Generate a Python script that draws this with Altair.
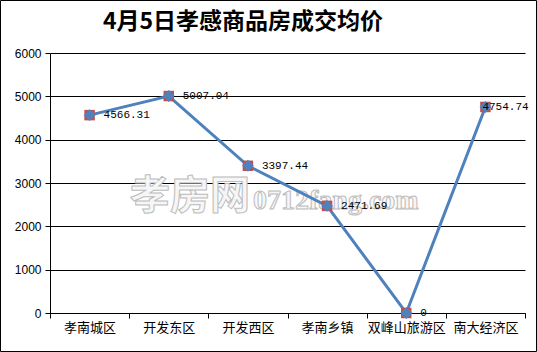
import altair as alt
import pandas as pd

title_text = "4月5日孝感商品房成交均价"
districts = ["孝南城区", "开发东区", "开发西区", "孝南乡镇", "双峰山旅游区", "南大经济区"]
prices = [4566.31, 5007.04, 3397.44, 2471.69, 0, 4754.74]
price_labels = ["4566.31", "5007.04", "3397.44", "2471.69", "0", "4754.74"]
y_ticks = [0, 1000, 2000, 3000, 4000, 5000, 6000]
watermark_cn = "孝房网"
watermark_en = "0712fang.com"

df = pd.DataFrame({"district": districts, "price": prices, "label": price_labels})
one = pd.DataFrame({"k": [0]})

BLUE = "#4F81BD"
RED = "#C0504D"

x_enc = alt.X(
    "district:N",
    sort=districts,
    scale=alt.Scale(paddingInner=0, paddingOuter=0),
    axis=alt.Axis(
        title=None,
        labelAngle=0,
        tickBand="extent",
        tickSize=5,
        tickColor="black",
        domainColor="black",
        labelFont="Noto Sans CJK SC",
        labelFontSize=13,
        labelColor="black",
        labelPadding=3,
        grid=False,
    ),
)
y_enc = alt.Y(
    "price:Q",
    scale=alt.Scale(domain=[0, 6000], nice=False),
    axis=alt.Axis(
        title=None,
        values=y_ticks,
        format="d",
        grid=True,
        gridColor="black",
        gridWidth=1,
        tickSize=5,
        tickColor="black",
        domainColor="black",
        labelFont="Liberation Sans",
        labelFontSize=12,
        labelColor="black",
        labelPadding=4,
    ),
)

base = alt.Chart(df)

border = alt.Chart(one).mark_rect(fill=None, stroke="black", strokeWidth=1).encode(
    x=alt.value(-49.5), x2=alt.value(486.5), y=alt.value(-52.5), y2=alt.value(298.5)
)

wm_cn = alt.Chart(one).mark_text(
    text=watermark_cn, font="Noto Sans CJK SC", fontSize=40, fontWeight="bold",
    fill="#f6f6f6", stroke="#bcbcbc", strokeWidth=1, align="left", baseline="middle"
).encode(x=alt.value(80), y=alt.value(144))

wm_en = alt.Chart(one).mark_text(
    text=watermark_en, font="Liberation Serif", fontSize=28, fontWeight="bold",
    fill="#f6f6f6", stroke="#bcbcbc", strokeWidth=1, align="left", baseline="middle"
).encode(x=alt.value(203), y=alt.value(148))

line = base.mark_line(color=BLUE, strokeWidth=3).encode(x=x_enc, y=y_enc)
squares = base.mark_square(color=RED, size=110, opacity=1).encode(x=x_enc, y=y_enc)
diamonds = base.mark_point(shape="diamond", filled=True, color=BLUE, size=140, opacity=1).encode(
    x=x_enc, y=y_enc
)

labels = base.transform_filter(alt.datum.district != districts[-1]).mark_text(
    font="Liberation Mono", fontSize=11, align="left", baseline="middle", dx=14, color="black"
).encode(x=x_enc, y=y_enc, text="label:N")

labels_last = base.transform_filter(alt.datum.district == districts[-1]).mark_text(
    font="Liberation Mono", fontSize=11, align="left", baseline="middle", dx=-3, color="black"
).encode(x=x_enc, y=y_enc, text="label:N")

title = alt.Chart(one).mark_text(
    text=title_text, font="Noto Sans CJK SC", fontSize=23, fontWeight="bold",
    color="black", align="center", baseline="middle"
).encode(x=alt.value(193), y=alt.value(-31))

chart = alt.layer(
    border, wm_cn, wm_en, line, squares, diamonds, labels, labels_last, title
).properties(
    width=475,
    height=260,
    autosize=alt.AutoSizeParams(type="none"),
    padding={"left": 50, "top": 53, "right": 12, "bottom": 39},
    background="white",
).configure_view(stroke=None)

chart.save("out.html", embed_options={"renderer": "svg", "actions": False})
